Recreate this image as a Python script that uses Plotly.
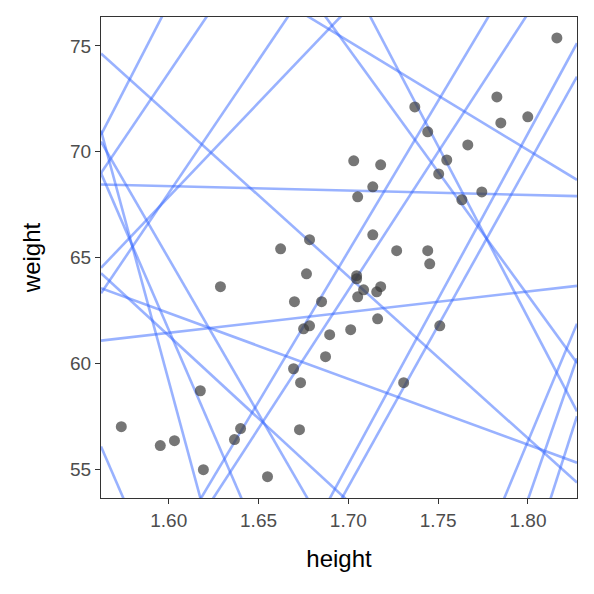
import plotly.graph_objects as go

# observed heights (m) and weights (kg)
height = [1.5736, 1.5953, 1.6032, 1.6176, 1.6193, 1.6288, 1.6366, 1.6400, 1.6550, 1.6623,
          1.6695, 1.6700, 1.6728, 1.6734, 1.6751, 1.6767, 1.6784, 1.6784, 1.6851, 1.6873,
          1.6896, 1.7013, 1.7030, 1.7046, 1.7046, 1.7052, 1.7052, 1.7085, 1.7136, 1.7136,
          1.7158, 1.7163, 1.7180, 1.7180, 1.7269, 1.7308, 1.7370, 1.7442, 1.7442, 1.7453,
          1.7503, 1.7509, 1.7548, 1.7632, 1.7665, 1.7743, 1.7827, 1.7849, 1.7999, 1.8161]
weight = [57.00, 56.11, 56.34, 58.70, 54.97, 63.62, 56.39, 56.91, 54.64, 65.41,
          59.74, 62.91, 56.86, 59.08, 61.63, 64.23, 65.84, 61.77, 62.91, 60.31,
          61.35, 61.59, 69.57, 64.14, 63.99, 67.87, 63.14, 63.47, 68.34, 66.07,
          63.38, 62.10, 69.38, 63.62, 65.32, 59.08, 72.12, 70.94, 65.32, 64.70,
          68.95, 61.77, 69.61, 67.73, 70.32, 68.10, 72.59, 71.36, 71.65, 75.38]

# prior predictive lines: weight at the left and right edges of the panel
x_left, x_right = 1.5623, 1.8273
line_left = [68.45, 61.07, 74.65, 70.80, 68.99, 63.31, 64.51, 82.34, 91.0, 100.68,
             63.55, 64.26, 71.0, 68.99, 56.07, 70.48, 45.7, 45.45, 33.7, 33.2,
             7.9, -4.6, -12.6]
line_right = [67.90, 63.66, 54.36, 114.4, 102.3, 96.6, 88.1, 68.67, 60.01, 57.73,
              55.30, 43.5, -12.2, 16.9, 3.9, 31.6, 83.4, 80.1, 75.13, 73.55,
              61.87, 60.24, 57.5]

fig = go.Figure()
for y0, y1 in zip(line_left, line_right):
    fig.add_trace(go.Scatter(
        x=[x_left, x_right], y=[y0, y1], mode="lines",
        line=dict(color="rgba(51,102,255,0.5)", width=2.6),
        hoverinfo="skip", showlegend=False
    ))
fig.add_trace(go.Scatter(
    x=height, y=weight, mode="markers",
    marker=dict(color="rgba(60,60,60,0.7)", size=11),
    showlegend=False
))

axis_style = dict(
    showgrid=False, zeroline=False, showline=True, mirror=True,
    linecolor="#333333", linewidth=1.2, ticks="outside", ticklen=5,
    tickcolor="#333333", tickwidth=1.2,
    tickfont=dict(size=19, color="#4d4d4d")
)
fig.update_xaxes(range=[x_left, x_right], tickvals=[1.60, 1.65, 1.70, 1.75, 1.80],
                 ticktext=["1.60", "1.65", "1.70", "1.75", "1.80"],
                 title=dict(text="height", font=dict(size=24, color="black"), standoff=20),
                 **axis_style)
fig.update_yaxes(range=[53.63, 76.37], tickvals=[55, 60, 65, 70, 75],
                 title=dict(text="weight", font=dict(size=24, color="black"), standoff=22),
                 **axis_style)
fig.update_layout(
    width=594, height=594,
    margin=dict(l=93, r=25, t=9, b=104, autoexpand=False),
    plot_bgcolor="white", paper_bgcolor="white",
    font=dict(family="Liberation Sans")
)
fig.write_html("out.html")
